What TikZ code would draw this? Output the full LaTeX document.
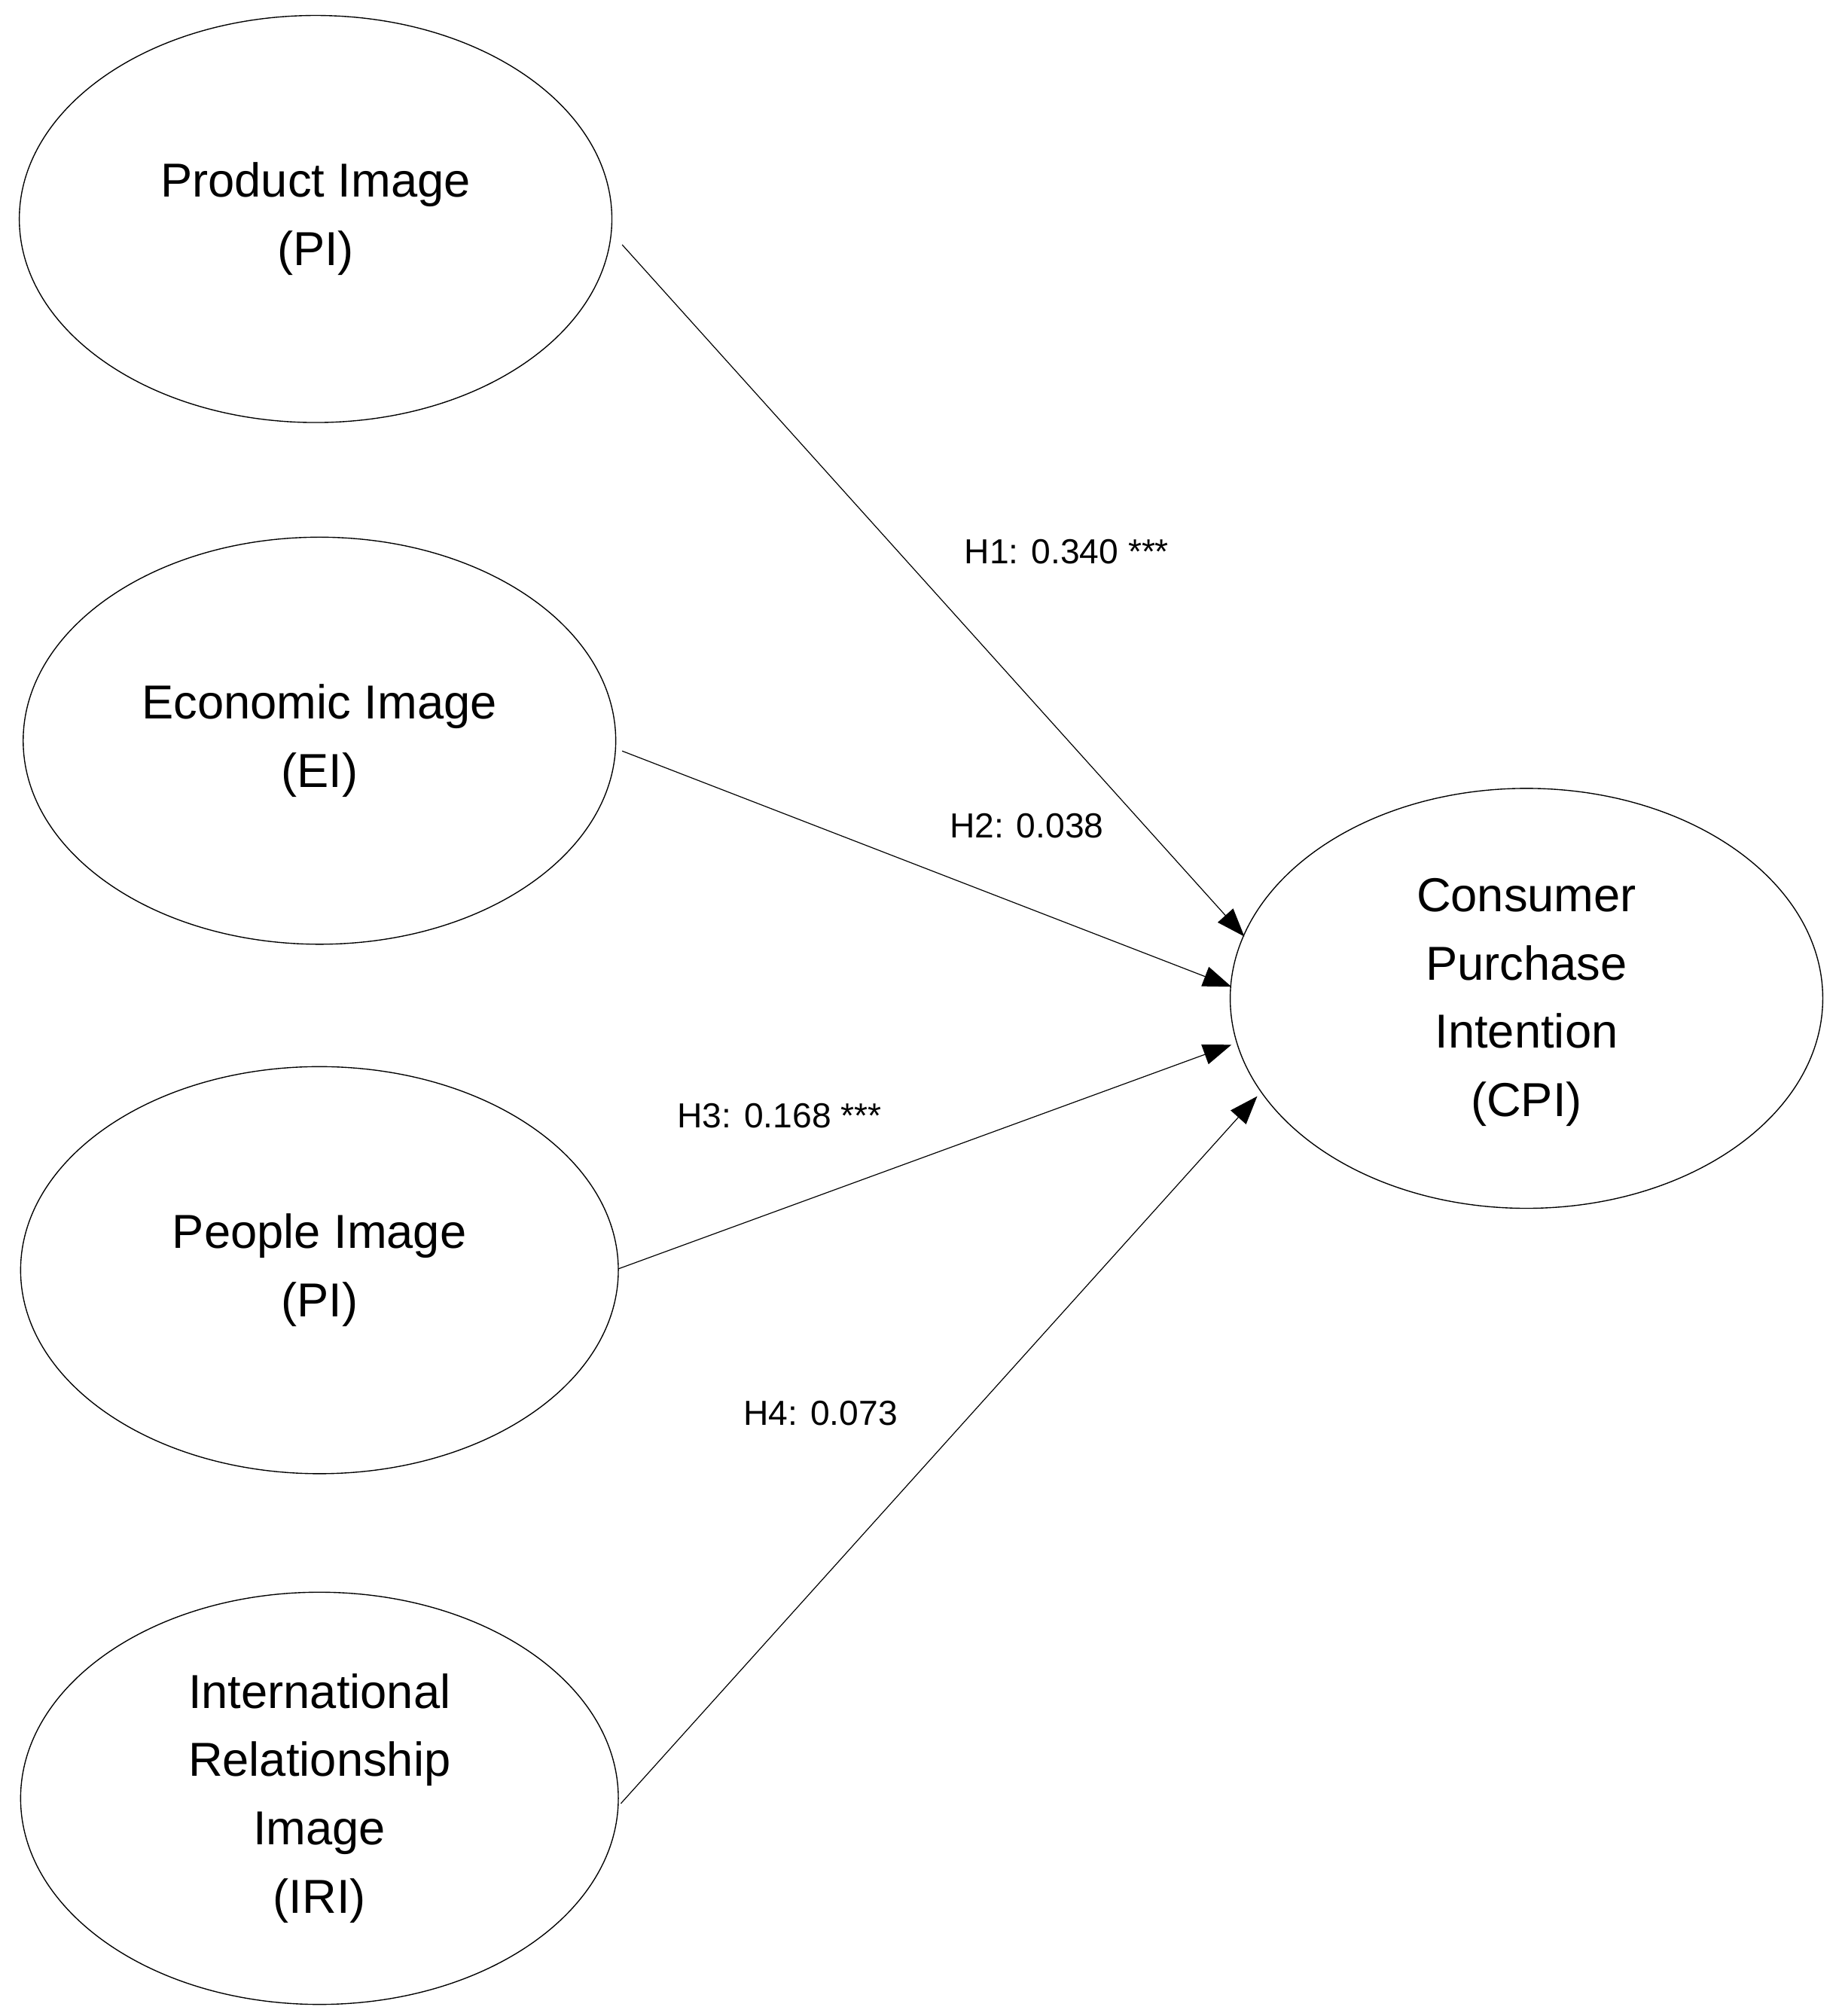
\documentclass[tikz,border=0pt]{standalone}
\usepackage{fontspec}
\setmainfont{Liberation Sans}
\usetikzlibrary{arrows.meta}
\begin{document}
\begin{tikzpicture}[x=1pt,y=-1pt,
  lat/.style={draw,line width=0.8pt,ellipse,minimum width=#1,align=center,font=\fontsize{37}{53}\selectfont},
  path/.style={line width=0.7pt,-{Triangle[length=22pt,width=16pt]}},
  lab/.style={font=\fontsize{27}{32}\selectfont}]
\useasboundingbox (0,0) rectangle (1425,1565);
\draw[line width=0.8pt] (245,170) ellipse (230 and 158);
\node[align=center,font=\fontsize{37}{53}\selectfont] (pi) at (245,170) {Product Image\\(PI)};
\draw[line width=0.8pt] (248,575) ellipse (230 and 158);
\node[align=center,font=\fontsize{37}{53}\selectfont] (ei) at (248,575) {Economic Image\\(EI)};
\draw[line width=0.8pt] (248,986) ellipse (232 and 158);
\node[align=center,font=\fontsize{37}{53}\selectfont] (pe) at (248,986) {People Image\\(PI)};
\draw[line width=0.8pt] (248,1396) ellipse (232 and 160);
\node[align=center,font=\fontsize{37}{53}\selectfont] (iri) at (248,1396) {International\\Relationship\\Image\\(IRI)};
\draw[line width=0.8pt] (1185,775) ellipse (230 and 163);
\node[align=center,font=\fontsize{37}{53}\selectfont] (cpi) at (1185,778) {Consumer\\Purchase\\Intention\\(CPI)};
\coordinate (a1) at (483,190); \coordinate (b1) at (966,727);
\coordinate (a2) at (483,583); \coordinate (b2) at (956,766);
\coordinate (a3) at (480,985); \coordinate (b3) at (956,811);
\coordinate (a4) at (482,1400); \coordinate (b4) at (976,851);
\draw[path] (a1) -- (b1);
\draw[path] (a2) -- (b2);
\draw[path] (a3) -- (b3);
\draw[path] (a4) -- (b4);
\node[lab] (h1) at (828,428) {H1: 0.340 ***};
\node[lab] (h2) at (797,641) {H2: 0.038};
\node[lab] (h3) at (605,866) {H3: 0.168 ***};
\node[lab] (h4) at (637,1097) {H4: 0.073};
\end{tikzpicture}
\end{document}
